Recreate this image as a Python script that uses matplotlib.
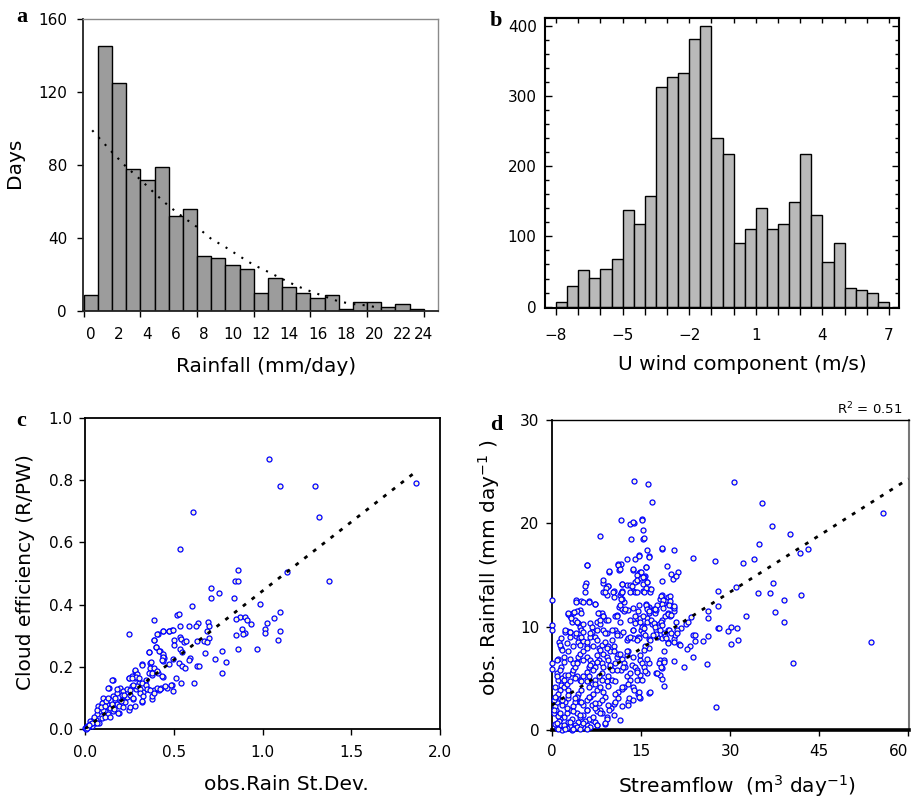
import numpy as np
import matplotlib
matplotlib.use("Agg")
import matplotlib.pyplot as plt

plt.rcParams['font.family'] = ['DejaVu Sans']

# (a) rainfall histogram, 1 mm/day bins
rain_bins = np.arange(0, 25, 1)
rain_days = [9, 145, 125, 78, 72, 79, 52, 56, 30, 29, 25, 23, 10, 18, 13, 10, 7, 9, 1, 5, 5, 2, 4, 1]
rain_fit_x = [0.6, 2, 3, 4, 5, 6, 7, 8, 9, 10, 11, 12, 13, 14, 15, 16, 17, 18, 19, 20, 21]
rain_fit_y = [99, 87, 79, 72, 64.5, 57.5, 51.5, 46, 39.5, 35, 30, 25.2, 21.5, 17.6, 13.8, 10.8, 8, 5.2, 3.8, 3.0, 1.5]
rain_ticklabels = ['0', '2', '4', '6', '8', '10', '12', '14', '16', '18', '20', '22', '24']

# (b) U wind histogram, 0.5 m/s bins
wind_bins = np.arange(-8, 7.01, 0.5)
wind_count = [7, 30, 52, 41, 53, 68, 137, 118, 158, 313, 327, 333, 381, 400, 240,
              218, 91, 110, 141, 111, 118, 149, 217, 131, 64, 91, 27, 23, 20, 7]

# (c) obs rain st.dev vs cloud efficiency
c_points = [
    (1.037, 0.867), (1.101, 0.780), (1.294, 0.780), (1.865, 0.791), (1.319, 0.681), (0.608, 0.697),
    (0.536, 0.578), (1.138, 0.506), (1.375, 0.476), (0.860, 0.511), (0.847, 0.476), (0.860, 0.476),
    (0.707, 0.453), (0.756, 0.437), (0.707, 0.420), (0.839, 0.420), (0.986, 0.401), (0.600, 0.394),
    (1.101, 0.377), (0.519, 0.367), (0.527, 0.371), (0.386, 0.349), (0.248, 0.306), (1.063, 0.358),
    (1.025, 0.342), (1.101, 0.314), (1.088, 0.287), (1.012, 0.323), (1.016, 0.310), (0.871, 0.361),
    (0.901, 0.361), (0.914, 0.351), (0.937, 0.339), (0.852, 0.353), (0.886, 0.323), (0.903, 0.310),
    (0.890, 0.304), (0.852, 0.303), (0.860, 0.258), (0.967, 0.258), (0.771, 0.252), (0.796, 0.216),
    (0.771, 0.180), (0.734, 0.224), (0.675, 0.243), (0.692, 0.344), (0.696, 0.331), (0.687, 0.315),
    (0.701, 0.294), (0.668, 0.283), (0.687, 0.280), (0.630, 0.283), (0.638, 0.342), (0.625, 0.331),
    (0.587, 0.330), (0.536, 0.330), (0.632, 0.204), (0.640, 0.204), (0.589, 0.229), (0.613, 0.148),
    (0.542, 0.148), (0.495, 0.122), (0.514, 0.165), (0.489, 0.141), (0.461, 0.132), (0.437, 0.168),
    (0.412, 0.181), (0.378, 0.097), (0.322, 0.087), (0.322, 0.208), (0.359, 0.247), (0.391, 0.285),
    (0.401, 0.263), (0.421, 0.251), (0.410, 0.304), (0.442, 0.315), (0.472, 0.315), (0.491, 0.318),
    (0.499, 0.286), (0.499, 0.270), (0.534, 0.297), (0.543, 0.288), (0.558, 0.280), (0.567, 0.284),
    (0.536, 0.256), (0.546, 0.248), (0.438, 0.234), (0.446, 0.227), (0.442, 0.218), (0.495, 0.226),
    (0.476, 0.208), (0.529, 0.213), (0.548, 0.202), (0.561, 0.197), (0.585, 0.222), (0.367, 0.211),
    (0.367, 0.197), (0.361, 0.181), (0.376, 0.172), (0.429, 0.132), (0.416, 0.125), (0.386, 0.125),
    (0.282, 0.188), (0.263, 0.170), (0.282, 0.165), (0.250, 0.165), (0.156, 0.157), (0.137, 0.132),
    (0.265, 0.138), (0.290, 0.127), (0.307, 0.148), (0.344, 0.159), (0.325, 0.118), (0.354, 0.127),
    (0.269, 0.095), (0.246, 0.062), (0.194, 0.052),
    (0.408, 0.306), (0.442, 0.314), (0.474, 0.314), (0.495, 0.317), (0.389, 0.285), (0.400, 0.263),
    (0.416, 0.252), (0.361, 0.247), (0.438, 0.242), (0.442, 0.231), (0.431, 0.223), (0.374, 0.215),
    (0.386, 0.197), (0.376, 0.181), (0.322, 0.207), (0.404, 0.186), (0.436, 0.170), (0.282, 0.189),
    (0.292, 0.177), (0.286, 0.166), (0.246, 0.164), (0.267, 0.164), (0.307, 0.163), (0.320, 0.148),
    (0.341, 0.140), (0.348, 0.127), (0.367, 0.124), (0.150, 0.157), (0.131, 0.132), (0.198, 0.131),
    (0.216, 0.123), (0.210, 0.108), (0.235, 0.129), (0.254, 0.124), (0.292, 0.137), (0.310, 0.127),
    (0.269, 0.140), (0.179, 0.116), (0.160, 0.105), (0.169, 0.092), (0.235, 0.103), (0.254, 0.110),
    (0.273, 0.099), (0.310, 0.116), (0.329, 0.105), (0.320, 0.089), (0.376, 0.105), (0.386, 0.116),
    (0.408, 0.132), (0.423, 0.127), (0.453, 0.137), (0.487, 0.140), (0.207, 0.094), (0.226, 0.086),
    (0.103, 0.101), (0.094, 0.085), (0.075, 0.074), (0.122, 0.080), (0.141, 0.069), (0.179, 0.080),
    (0.194, 0.074), (0.216, 0.071), (0.254, 0.071), (0.282, 0.073), (0.156, 0.057), (0.113, 0.057),
    (0.131, 0.048), (0.085, 0.057), (0.066, 0.047), (0.188, 0.052), (0.047, 0.030), (0.028, 0.025),
    (0.056, 0.019), (0.081, 0.019), (0.094, 0.035), (0.113, 0.040), (0.009, 0.010), (0.000, 0.003),
    (0.019, 0.005), (0.038, 0.008), (0.141, 0.040), (0.005, 0.000), (0.012, 0.004), (0.030, 0.015),
    (0.060, 0.030), (0.070, 0.060), (0.100, 0.060), (0.120, 0.090), (0.170, 0.100), (0.200, 0.090),
    (0.220, 0.110), (0.180, 0.130), (0.090, 0.070), (0.050, 0.040), (0.040, 0.020), (0.020, 0.012),
    (0.065, 0.020), (0.150, 0.080), (0.130, 0.100), (0.110, 0.075), (0.165, 0.065),
]
c_fit_x = [0.0, 1.87]
c_fit_y = [0.0, 0.83]

# (d) streamflow vs observed rainfall
d_points = [
    (13.9, 24.1), (16.2, 23.8), (16.8, 22.1), (30.7, 24.0), (35.4, 22.0), (55.7, 21.0), (37.0, 19.7),
    (40.1, 19.0), (34.8, 18.0), (41.8, 17.1), (43.1, 17.5), (34.1, 16.5), (32.1, 16.2), (27.4, 16.4),
    (23.8, 16.6), (31.0, 13.8), (37.2, 14.2), (34.7, 13.3), (36.7, 13.3), (42.0, 13.1), (39.0, 12.6),
    (37.6, 11.4), (32.6, 11.0), (39.1, 10.5), (27.9, 13.5), (27.9, 12.0), (26.2, 11.5), (26.2, 10.8),
    (23.4, 10.9), (27.9, 9.9), (28.2, 9.9), (29.6, 9.6), (30.2, 10.0), (31.1, 9.9), (31.3, 8.7),
    (30.1, 8.3), (53.7, 8.5), (40.5, 6.5), (27.7, 2.2), (26.1, 6.4), (25.5, 8.6), (26.2, 9.1),
    (23.7, 9.2), (24.1, 9.2), (24.1, 8.6), (23.3, 8.1), (23.8, 7.1), (22.3, 6.1), (20.5, 6.7),
    (22.8, 7.8), (21.4, 8.3), (21.8, 9.9), (22.5, 10.3), (22.9, 10.5), (20.9, 10.5), (21.0, 9.7),
    (20.6, 8.8), (20.8, 9.2), (19.6, 8.5), (19.6, 9.7), (18.5, 8.9), (18.8, 9.4), (17.6, 9.7),
    (18.0, 10.3), (18.5, 10.6), (19.0, 11.0), (17.4, 11.3), (17.6, 11.6), (16.3, 11.7), (16.4, 11.3),
    (15.8, 12.2), (16.3, 11.9), (18.2, 12.7), (18.5, 13.1), (18.9, 12.3), (19.2, 12.6), (19.6, 12.9),
    (19.9, 13.0), (20.2, 12.0), (20.5, 11.5), (20.5, 11.8), (19.6, 11.3), (19.9, 11.0), (18.5, 14.4),
    (19.4, 15.9), (18.5, 17.5), (20.5, 17.4), (20.0, 15.1), (20.4, 14.6), (21.2, 15.3), (20.9, 14.9),
    (16.5, 13.6), (16.1, 14.3), (15.8, 15.8), (16.4, 16.8), (16.0, 17.4), (15.4, 18.5), (15.3, 19.4),
    (15.1, 20.4), (13.8, 20.0), (13.1, 19.9), (11.7, 20.3), (13.4, 18.5), (14.6, 16.9), (14.0, 16.5),
    (12.7, 16.5), (11.7, 16.1), (11.2, 16.1), (11.3, 15.5), (13.7, 15.5), (14.6, 15.2), (14.9, 15.3),
    (14.3, 14.4), (14.0, 14.3), (15.7, 14.9), (12.6, 14.0), (13.2, 14.0), (13.6, 13.5), (14.0, 13.4),
    (15.4, 13.5), (11.9, 14.1), (11.8, 13.5), (11.5, 13.1), (11.7, 13.3), (10.4, 13.5), (8.7, 13.4),
    (8.7, 14.2), (9.4, 13.9), (9.3, 13.1), (9.6, 15.3), (8.1, 18.8), (5.9, 16.0), (5.7, 14.2),
    (5.6, 13.9), (6.3, 12.5), (7.2, 12.2), (4.1, 12.6), (5.0, 12.5), (4.8, 11.6), (4.3, 11.5),
    (2.8, 11.2), (3.1, 11.0), (3.6, 11.3), (3.4, 10.5), (3.9, 10.6), (4.5, 10.4), (4.8, 10.0),
    (5.0, 9.7), (3.1, 9.5), (2.5, 9.6), (3.1, 9.0), (2.2, 9.5), (4.0, 9.1), (4.6, 8.9), (4.4, 8.5),
    (5.3, 8.6), (5.9, 8.1), (6.4, 9.0), (7.3, 9.0), (7.9, 11.3), (8.4, 11.3), (8.6, 11.0), (7.6, 10.5),
    (8.1, 10.3), (9.1, 10.6), (8.7, 9.7), (9.3, 9.4), (6.4, 10.4), (6.7, 10.0), (6.8, 9.5), (7.6, 8.7),
    (10.7, 11.0), (11.0, 11.1), (11.3, 11.9), (11.8, 11.7), (12.2, 11.5), (12.8, 11.6), (12.1, 12.4),
    (11.8, 12.7), (10.7, 9.7), (10.9, 9.4), (11.5, 9.2), (10.1, 8.7), (10.5, 8.1), (12.6, 8.7),
    (12.9, 8.9), (13.7, 8.9), (14.5, 9.0), (14.7, 8.9), (13.6, 9.7), (13.7, 9.7), (14.4, 10.8),
    (14.5, 11.5), (14.9, 10.8), (14.0, 10.4), (15.3, 10.1), (15.0, 9.7), (15.4, 9.4), (16.3, 8.8),
    (16.4, 7.9), (15.7, 8.1), (15.6, 7.7), (14.9, 6.8), (15.1, 6.5), (15.6, 6.1), (16.0, 5.5),
    (15.7, 5.7), (16.3, 6.5), (17.6, 5.5), (18.2, 5.3), (18.5, 4.9), (18.2, 6.8), (18.1, 6.5),
    (18.5, 6.0), (18.9, 6.8), (18.9, 6.6), (18.8, 4.3), (16.4, 3.6), (14.8, 3.1), (14.5, 3.5),
    (12.9, 2.7), (13.0, 3.1), (13.7, 4.2), (13.9, 3.9), (12.6, 5.2), (13.2, 4.8), (12.1, 4.2),
    (11.8, 4.0), (11.1, 3.7), (10.7, 3.5), (11.2, 3.1), (10.4, 2.5), (10.0, 2.1), (9.6, 1.9),
    (9.3, 1.3), (9.0, 0.6), (8.4, 1.6), (8.1, 1.9), (7.6, 1.8), (6.7, 1.0), (7.3, 0.8), (7.6, 0.5),
    (5.9, 0.5), (5.3, 0.26), (4.9, 0.5), (4.5, 0.8), (3.9, 0.5), (3.8, 0.16), (3.4, 0.0), (3.1, 0.4),
    (2.5, 0.16), (1.7, 0.0), (1.4, 0.5), (0.8, 0.16), (0.56, 0.6), (0.45, 1.6), (0.67, 1.9),
    (0.56, 2.3), (0.8, 2.7), (1.1, 3.1), (0.7, 3.2), (0.0, 12.6), (0.0, 10.2), (0.0, 9.7), (0.0, 6.5),
    (0.0, 5.9), (1.2, 8.5), (1.6, 8.9), (1.6, 7.9), (2.7, 7.6), (2.0, 7.1), (1.1, 4.8), (1.7, 5.0),
    (2.2, 5.3), (1.6, 4.4), (1.4, 3.9), (2.0, 4.2), (2.5, 4.5), (3.1, 4.7), (2.8, 3.9), (3.4, 5.5),
    (3.6, 5.8), (3.9, 6.1), (4.2, 6.6), (4.4, 7.1), (3.6, 6.5), (4.8, 7.4), (5.3, 7.6), (5.9, 7.1),
    (6.4, 6.8), (6.7, 6.5), (7.3, 6.1), (7.6, 7.3), (7.9, 6.8), (8.4, 6.5), (8.7, 7.4), (9.3, 7.1),
    (9.5, 6.8), (9.8, 6.1), (10.1, 5.8), (10.7, 6.5), (10.9, 7.1), (11.2, 7.4), (11.8, 6.9),
    (12.1, 6.5), (12.3, 6.1), (11.7, 5.8), (12.6, 7.3), (12.9, 7.6), (13.5, 6.3), (14.0, 6.1),
    (14.3, 5.8), (14.9, 5.3), (14.3, 4.8), (9.5, 5.2), (10.1, 4.8), (9.3, 4.7), (8.4, 5.5), (7.9, 5.2),
    (7.3, 4.8), (6.7, 4.5), (6.2, 4.2), (5.9, 4.7), (5.0, 3.9), (4.5, 3.5), (4.2, 3.2), (3.9, 2.7),
    (3.6, 2.3), (3.1, 1.9), (2.5, 1.6), (2.0, 1.3), (1.4, 1.1), (2.2, 2.7), (2.8, 3.1), (1.7, 2.4),
    (4.8, 2.7), (5.3, 2.4), (5.9, 2.9), (6.4, 3.2), (7.0, 3.5), (7.6, 3.9), (8.1, 4.2), (8.7, 3.7),
    (9.0, 3.2), (6.7, 2.4), (7.3, 2.1), (7.9, 2.6), (5.9, 1.9), (5.3, 1.5), (4.8, 1.3), (4.2, 1.6),
    (3.4, 1.1), (2.8, 0.8), (2.0, 0.3), (1.2, 0.9), (1.0, 1.4), (6.2, 1.1), (5.6, 0.9), (4.2, 5.2),
    (4.8, 4.8), (5.3, 5.2), (5.9, 5.6), (6.2, 6.1), (7.0, 5.8), (7.9, 7.9), (8.4, 8.2), (9.0, 8.5),
    (9.5, 8.1), (9.8, 7.6), (5.0, 9.0), (5.9, 8.5), (1.1, 6.9), (1.6, 6.1), (0.8, 5.5), (0.56, 4.2),
    (1.0, 3.5), (0.45, 2.9),
    (13.7, 20.1), (15.1, 20.3), (15.5, 18.6), (6.0, 16.0), (9.7, 15.4), (11.2, 16.0), (14.6, 16.8),
    (11.4, 15.6), (13.7, 15.6), (14.4, 15.0), (15.0, 15.3), (15.8, 15.8), (8.7, 14.5), (9.5, 13.9),
    (9.1, 13.7), (11.8, 14.1), (13.5, 13.9), (14.3, 14.5), (15.0, 14.7), (15.6, 14.8), (15.4, 14.1),
    (15.9, 13.7),
    (5.6, 13.4), (9.0, 13.4), (10.3, 13.4), (11.9, 13.4), (13.1, 13.4), (14.4, 13.4), (15.6, 13.4),
    (16.6, 13.4), (4.1, 12.4), (5.2, 12.4), (6.3, 12.4), (7.3, 12.2), (11.5, 12.1), (12.3, 11.7),
    (13.6, 11.8), (14.6, 12.1), (16.0, 11.9), (17.2, 11.7), (11.7, 12.7), (10.4, 12.9), (2.8, 11.3),
    (3.75, 11.4), (4.9, 11.3), (3.2, 10.8), (4.2, 10.5), (5.3, 10.3), (7.8, 11.3), (8.7, 11.0),
    (8.1, 10.6), (9.5, 10.6), (10.9, 11.0), (11.5, 10.5), (13.2, 10.6), (14.0, 11.0), (14.9, 10.5),
    (16.0, 10.8), (16.8, 10.3), (17.8, 10.0), (2.2, 9.7), (3.1, 9.5), (4.1, 9.4), (5.3, 9.5),
    (6.4, 9.4), (7.6, 9.7), (9.0, 9.4), (10.1, 9.7), (10.9, 9.2), (12.0, 9.5), (13.2, 9.0), (14.3, 8.7),
    (15.7, 9.2), (16.5, 8.7), (17.7, 9.0), (1.4, 8.2), (2.5, 8.4), (3.6, 8.1), (4.8, 8.2), (5.9, 7.9),
    (7.0, 8.1), (8.1, 7.7), (9.3, 7.9), (10.4, 7.6), (11.5, 7.4), (12.6, 7.6), (13.7, 7.1), (14.9, 7.3),
    (16.0, 6.9), (0.8, 6.8), (2.0, 6.6), (3.1, 6.9), (4.2, 6.5), (5.3, 6.8), (6.4, 6.3), (7.6, 6.6),
    (8.7, 6.1), (9.8, 6.3), (10.9, 5.8), (12.0, 6.1), (13.2, 5.5), (14.3, 5.6), (15.1, 4.8),
    (14.6, 3.7), (16.5, 3.7), (0.8, 5.2), (2.0, 4.8), (2.8, 5.3), (3.9, 5.0), (5.0, 4.7), (6.2, 5.2),
    (7.3, 4.5), (8.4, 4.8), (9.5, 4.3), (10.7, 4.7), (11.8, 4.2), (12.9, 4.5), (0.55, 3.2), (1.7, 2.9),
    (2.8, 3.4), (3.9, 3.1), (5.0, 2.7), (6.2, 3.2), (7.3, 2.6), (8.4, 2.9), (9.5, 2.4), (10.7, 2.7),
    (11.8, 2.3), (12.9, 2.4), (13.7, 2.9), (14.6, 3.2), (0.3, 1.9), (1.4, 1.6), (2.5, 2.1), (3.6, 1.8),
    (4.8, 1.5), (5.9, 1.9), (7.0, 1.3), (8.1, 1.6), (9.3, 1.1), (10.4, 1.5), (11.5, 1.0), (0.8, 0.65),
    (2.0, 0.5), (3.1, 0.8), (4.2, 0.3), (5.3, 0.65), (6.4, 0.3), (7.6, 0.5), (9.0, 0.65), (1.1, 0.05),
    (2.2, 0.05), (3.6, 0.05), (4.8, 0.05), (5.9, 0.05), (1.4, 5.8), (1.7, 7.7),
    (16.3, 16.7), (18.5, 17.6), (15.4, 14.8), (16.0, 14.3), (16.7, 13.6), (18.3, 13.0), (18.7, 12.6),
    (19.9, 12.5), (19.8, 12.1), (20.5, 12.0), (19.5, 11.2), (20.0, 11.1), (18.5, 12.2), (18.7, 11.8),
    (17.7, 12.1), (17.4, 11.7), (15.9, 12.1), (16.1, 11.7), (16.4, 11.5), (15.4, 11.0), (16.1, 10.5),
    (16.7, 10.6), (15.1, 10.0), (15.5, 9.9), (18.3, 10.5), (18.5, 10.2), (18.2, 9.7), (17.2, 10.4),
    (17.4, 10.0), (19.8, 9.7), (20.0, 9.4), (19.1, 9.1), (19.3, 8.9), (21.0, 9.4), (21.5, 8.2),
    (17.6, 9.3), (17.1, 9.2), (19.6, 8.4), (20.5, 8.5), (18.9, 7.6), (18.3, 6.1), (17.7, 5.5),
]
d_fit_x = [0.0, 60.0]
d_fit_y = [2.4, 24.3]

fig = plt.figure(figsize=(9.15, 7.98), dpi=100)
marker_face = '#fcf9d6'
fit_style = dict(color='black', lw=2.0, ls=(0, (1.4, 2.6)), zorder=4)

# ---- panel a ----
ax = fig.add_axes([0.0907, 0.6103, 0.388, 0.3659])
ax.bar(rain_bins[:-1], rain_days, width=np.diff(rain_bins), align='edge',
       color='#9c9c9c', edgecolor='black', linewidth=1.0, zorder=2)
ax.plot(rain_fit_x, rain_fit_y, color='black', lw=1.5, ls=(0, (1, 3.5)), zorder=3)
ax.set_xlim(-0.05, 25)
ax.set_ylim(0, 160)
ax.set_yticks([0, 40, 80, 120, 160])
ax.xaxis.remove_overlapping_locs = False
ax.set_xticks(np.arange(0, 25, 4))
ax.set_xticklabels([])
ax.set_xticks(list(np.arange(0.5, 23, 2)) + [24], minor=True)
ax.set_xticklabels(rain_ticklabels, minor=True)
ax.tick_params(axis='x', which='major', direction='out', length=4.5, width=1)
ax.tick_params(axis='x', which='minor', length=0, pad=11.5, labelsize=11)
ax.tick_params(axis='y', direction='out', length=4.5, width=1, pad=7, labelsize=11)
for s in ['top', 'right']:
    ax.spines[s].set_color('#8a8a8a')
    ax.spines[s].set_linewidth(1.0)
for s in ['left', 'bottom']:
    ax.spines[s].set_color('#222222')
    ax.spines[s].set_linewidth(1.3)
ax.set_xlabel('Rainfall (mm/day)', fontsize=14.5)
ax.set_ylabel('Days', fontsize=14.5)
ax.xaxis.set_label_coords(0.515, -0.158)
ax.yaxis.set_label_coords(-0.166, 0.508)

# ---- panel b ----
ax = fig.add_axes([0.5956, 0.6140, 0.3869, 0.3634])
ax.bar(wind_bins[:-1], wind_count, width=np.diff(wind_bins), align='edge',
       color='#b9b9b9', edgecolor='black', linewidth=1.0, zorder=2)
ax.set_xlim(-8.5, 7.45)
ax.set_ylim(-2, 411)
ax.set_xticks([-8, -5, -2, 1, 4, 7])
ax.set_xticks(np.arange(-8, 8, 1), minor=True)
ax.set_yticks([0, 100, 200, 300, 400])
ax.set_yticks(np.arange(0, 410, 20), minor=True)
ax.tick_params(axis='x', which='both', direction='out', length=5, width=1, pad=9.5, labelsize=11)
ax.tick_params(axis='y', which='major', direction='in', length=5, width=1,
               left=True, right=True, pad=6, labelsize=11)
ax.tick_params(axis='y', which='minor', direction='in', length=3, width=1, left=True, right=True)
top = ax.secondary_xaxis('top')
top.set_xticks(np.arange(-8, 8, 1))
top.tick_params(direction='in', length=3.5, width=1, labeltop=False)
top.spines['top'].set_linewidth(1.5)
for s in ax.spines.values():
    s.set_linewidth(1.5)
ax.set_xlabel('U wind component (m/s)', fontsize=14.5)
ax.xaxis.set_label_coords(0.559, -0.162)

# ---- panel c ----
ax = fig.add_axes([0.0929, 0.0865, 0.388, 0.3897])
cx, cy = np.array(c_points).T
ax.scatter(cx, cy, s=13, facecolors=marker_face, edgecolors='blue', linewidths=0.9,
           clip_on=False, zorder=3)
ax.plot(c_fit_x, c_fit_y, **fit_style)
ax.set_xlim(0, 2.0)
ax.set_ylim(0, 1.0)
ax.set_xticks([0.0, 0.5, 1.0, 1.5, 2.0])
ax.set_yticks([0.0, 0.2, 0.4, 0.6, 0.8, 1.0])
ax.xaxis.set_major_formatter(plt.FormatStrFormatter('%.1f'))
ax.yaxis.set_major_formatter(plt.FormatStrFormatter('%.1f'))
ax.tick_params(axis='x', direction='out', length=4.5, width=1, pad=7, labelsize=11)
ax.tick_params(axis='y', direction='out', length=4.5, width=1, pad=4.3, labelsize=11)
for s in ax.spines.values():
    s.set_linewidth(1.3)
ax.set_xlabel('obs.Rain St.Dev.', fontsize=14.5)
ax.set_ylabel('Cloud efficiency (R/PW)', fontsize=14.5)
ax.xaxis.set_label_coords(0.566, -0.148)
ax.yaxis.set_label_coords(-0.141, 0.503)

# ---- panel d ----
ax = fig.add_axes([0.6030, 0.0852, 0.3905, 0.3885])
dx, dy = np.array(d_points).T
ax.scatter(dx, dy, s=13, facecolors=marker_face, edgecolors='blue', linewidths=0.9,
           clip_on=False, zorder=3)
ax.plot(d_fit_x, d_fit_y, **fit_style)
ax.set_xlim(0, 60.1)
ax.set_ylim(0, 30)
ax.set_xticks([0, 15, 30, 45, 60])
ax.set_yticks([0, 10, 20, 30])
ax.tick_params(axis='x', direction='out', length=4, width=1, pad=5.8, labelsize=11)
ax.tick_params(axis='y', direction='out', length=4, width=1, pad=4.8, labelsize=11)
ax.get_xticklabels()[-1].set_horizontalalignment('right')
ax.spines['left'].set_linewidth(1.3)
ax.spines['bottom'].set_linewidth(2.6)
ax.spines['top'].set_linewidth(1.0)
ax.spines['right'].set_color('#777777')
ax.spines['right'].set_linewidth(1.5)
ax.set_xlabel(r'Streamflow  (m$^3$ day$^{-1}$)', fontsize=14.5)
ax.set_ylabel(r'obs. Rainfall (mm day$^{-1}$ )', fontsize=14.5)
ax.xaxis.set_label_coords(0.519, -0.139)
ax.yaxis.set_label_coords(-0.139, 0.524)

# panel letters and annotation
letter_kw = dict(fontsize=16, fontweight='bold', family=['Liberation Serif'],
                 ha='center', va='baseline')
fig.text(0.0237, 0.9724, 'a', **letter_kw)
fig.text(0.5421, 0.9674, 'b', **letter_kw)
fig.text(0.0230, 0.4662, 'c', **letter_kw)
fig.text(0.5421, 0.4612, 'd', **letter_kw)
fig.text(0.9858, 0.4812, r'R$^2$ = 0.51', ha='right', va='baseline', fontsize=9.5)

fig.savefig('out.png', dpi=100)
